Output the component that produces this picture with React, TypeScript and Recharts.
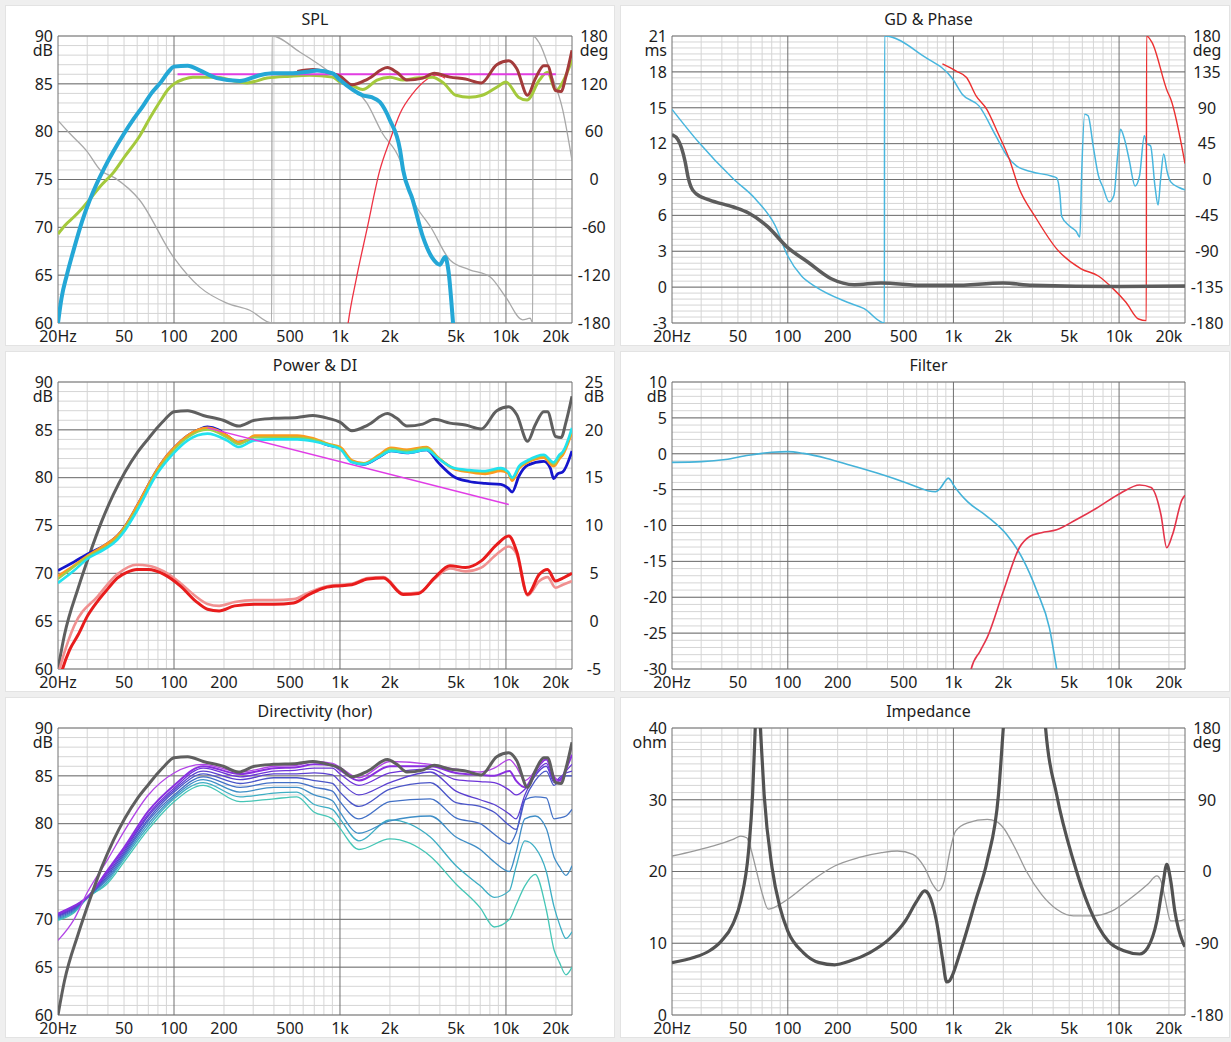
import React from 'react';
import { LineChart, Line, XAxis, YAxis, CartesianGrid } from 'recharts';

type Pt = [number, number];

const FONT = '"Noto Sans", "DejaVu Sans", sans-serif';
const TEXT = '#1d1d1d';

// ---------- frequency axis ----------
const freqTicks = [20, 50, 100, 200, 500, 1000, 2000, 5000, 10000, 20000];
const freqTickLabels = ['20Hz', '50', '100', '200', '500', '1k', '2k', '5k', '10k', '20k'];
const freqMajorLines = [20, 100, 1000, 10000, 25000];
const freqMinorLines = [30, 40, 50, 60, 70, 80, 90, 200, 300, 400, 500, 600, 700, 800, 900,
  2000, 3000, 4000, 5000, 6000, 7000, 8000, 9000, 20000];

// ---------- SPL ----------
const splWoofer: Pt[] = [[20, 60], [21, 62.6], [22.6, 65.0], [25, 67.8], [27.9, 70.6], [31, 72.8], [34.3, 74.6],
  [38.3, 76.3], [43, 77.9], [49.2, 79.6], [57, 81.3], [65.1, 82.7], [73, 84], [82.7, 85.1], [92, 86.2], [100, 86.8],
  [121, 86.9], [143, 86.4], [181, 85.6], [249, 85.3], [329, 85.9], [392, 86.1], [500, 86.1], [657, 86.3],
  [727, 86.4], [903, 86.1], [1000, 85.4], [1190, 84.4], [1370, 83.8], [1550, 83.6], [1740, 83.1], [2000, 81.2],
  [2300, 78.1], [2400, 76], [2740, 72.9], [3160, 69], [3600, 66.8], [3990, 66.1], [4300, 66.9], [4500, 65.5],
  [4800, 60], [5200, 52]];
const splLowpassRef: Pt[] = [[20, 69.3], [22, 70.2], [25, 71.1], [28, 72], [32, 73.2], [36, 74.3], [43.5, 75.8],
  [50, 77.3], [62.4, 79.6], [72, 81.5], [82.7, 83.2], [92, 84.4], [100, 85.0], [115, 85.5], [130, 85.7], [181, 85.7],
  [230, 85.3], [275, 85.1], [363, 85.6], [500, 85.8], [657, 85.9], [903, 85.7], [1000, 85.2], [1190, 84.8],
  [1370, 84.4], [1670, 85.4], [2000, 85.7], [2400, 85.4], [2900, 85.6], [3600, 85.7], [4200, 85.1], [5000, 83.8],
  [6000, 83.6], [7200, 83.8], [8900, 84.7], [10000, 85.2], [11900, 83.6], [13400, 83.3], [15900, 85.4],
  [17800, 86.2], [20000, 84.3], [22000, 85.2], [25000, 87.5]];
const onAxis: Pt[] = [[20, 60], [21.9, 63.6], [26.5, 68.5], [31, 72], [36.6, 75.4], [43, 78.2], [50.7, 80.6],
  [60, 82.6], [70.2, 84.1], [80, 85.3], [87.3, 86], [100, 86.9], [121, 87.0], [150, 86.5], [198, 86.0], [245, 85.4],
  [305, 86.0], [399, 86.2], [553, 86.3], [688, 86.5], [852, 86.2], [1000, 85.8], [1180, 84.9], [1470, 85.5],
  [1930, 86.7], [2200, 86.2], [2530, 85.4], [3150, 85.6], [3700, 86.1], [4600, 85.7], [5700, 85.5], [7100, 85.1],
  [8800, 87.0], [10400, 87.4], [11600, 86.6], [13500, 83.8], [15000, 85.5], [16900, 86.9], [17800, 86.9],
  [19900, 84.3], [21500, 84.2], [23000, 85.8], [25000, 88.5]];
const splTarget: Pt[] = [[105, 86], [20000, 86]];
const splTweeter: Pt[] = [[1050, 56], [1120, 60], [1260, 64.8], [1450, 69.7], [1740, 76], [2000, 79.1],
  [2300, 81.9], [2750, 84], [3300, 85.4], [3800, 85.9], [4300, 85.6]];
const splPhase: Pt[] = [[20, 74], [23.5, 58], [30, 35], [35.9, 12], [44, 2], [62, -25.7], [99, -97], [143, -135],
  [208, -155], [286, -164], [388, -180], [389.5, 180], [572, 160], [657, 152], [1000, 125], [1450, 96], [1800, 58],
  [2300, 24], [2600, -13], [3600, -63], [4600, -101], [6000, -113], [8000, -122], [10000, -148], [12600, -176],
  [14000, -174], [14500, -180], [14560, 180], [15900, 171], [18600, 134], [22000, 87], [25000, 24]];

// ---------- GD & Phase ----------
const groupDelay: Pt[] = [[20, 12.75], [21.8, 12.3], [24, 10.5], [25, 9.2], [26, 8.4], [28, 7.8], [33.5, 7.3],
  [47, 6.7], [58, 6.2], [75, 5.1], [100, 3.3], [132, 2.1], [183, 0.7], [252, 0.2], [365, 0.35], [667, 0.15],
  [1000, 0.15], [2000, 0.35], [3000, 0.15], [10000, 0.05], [25000, 0.1]];
const wooferPhase: Pt[] = [[20, 88], [28.9, 47], [47, 0.6], [63.8, -24.5], [84, -58], [100, -96], [121, -121],
  [146, -134], [229, -154], [289, -162], [383, -180], [384, 180], [667, 154], [990, 126], [1130, 107], [1430, 92],
  [1800, 55], [2100, 30], [2400, 17], [3000, 9.4], [3900, 4.4], [4200, 2], [4400, -20], [4500, -46], [5000, -58],
  [5500, -65], [5800, -72], [5950, 10], [6200, 82], [6500, 80], [7000, 40], [7500, 5], [8000, -10], [8700, -28],
  [9300, -20], [9800, 30], [10200, 63], [10800, 50], [11500, 25], [12500, -8], [13300, 5], [14200, 55], [14700, 45],
  [15500, 42], [16500, -10], [17200, -32], [17800, 0], [18600, 32], [19500, 10], [20500, -3], [23000, -10],
  [25000, -13]];
const tweeterPhase: Pt[] = [[858, 145], [1040, 136], [1200, 128], [1370, 105], [1590, 88], [1840, 60], [2170, 26],
  [2500, -12], [3100, -46], [4200, -87], [5900, -112], [7500, -121], [9000, -135], [11000, -154], [13100, -175],
  [14600, -177], [14650, 180], [15800, 172], [19600, 110], [20500, 101], [25000, 20]];

// ---------- Power & DI ----------
const listenBlue: Pt[] = [[20, 70.3], [25, 71.2], [30, 72.0], [38, 72.9], [45.5, 73.9], [50.7, 74.9], [59.7, 77.0],
  [68, 78.8], [78.3, 80.7], [88, 82.0], [100, 83.1], [121, 84.4], [140, 85.0], [159, 85.3], [185, 85.0], [208, 84.4],
  [245, 83.7], [275, 83.9], [305, 84.3], [400, 84.3], [553, 84.3], [688, 84.0], [852, 83.4], [1000, 83.1],
  [1180, 81.7], [1390, 81.4], [1730, 82.2], [2030, 82.8], [2530, 82.6], [3330, 82.9], [3900, 81.6], [4860, 80.1],
  [6000, 79.6], [7500, 79.4], [9300, 79.3], [10300, 78.9], [10900, 78.5], [12000, 80.2], [13500, 81.3],
  [16900, 81.7], [18500, 81.0], [19400, 79.9], [20500, 80.4], [22000, 80.6], [25000, 82.8]];
const reflOrange: Pt[] = [[20, 69.7], [25, 70.8], [30, 71.8], [38, 72.9], [45.5, 73.9], [50.7, 74.9], [59.7, 77.0],
  [68, 78.8], [78.3, 80.7], [88, 82.0], [100, 83.1], [121, 84.4], [140, 85.0], [159, 85.2], [185, 84.9], [208, 84.4],
  [245, 83.7], [275, 83.9], [305, 84.4], [400, 84.4], [553, 84.4], [688, 84.1], [852, 83.5], [1000, 83.2],
  [1180, 81.8], [1390, 81.5], [1730, 82.4], [2030, 83.1], [2530, 82.9], [3330, 83.2], [3900, 82.1], [4860, 80.9],
  [6000, 80.6], [7500, 80.4], [9300, 80.7], [10300, 80.5], [10900, 79.7], [12000, 81.0], [13500, 81.6],
  [16900, 82.1], [19400, 81.2], [21000, 82.0], [22000, 82.4], [25000, 84.8]];
const powerGreen: Pt[] = [[20, 69.4], [30, 71.7], [45.5, 73.7], [59.7, 76.7], [78.3, 80.5], [100, 82.9], [121, 84.2],
  [159, 85.0], [208, 84.2], [245, 83.5], [305, 84.2], [400, 84.2], [553, 84.2], [688, 84.0], [852, 83.5],
  [1000, 83.1], [1180, 81.7], [1390, 81.5], [1730, 82.3], [2030, 83.0], [2530, 82.8], [3330, 83.1], [3900, 82.1],
  [4860, 81.0], [6000, 80.7], [7500, 80.6], [9300, 80.9], [10300, 80.6], [10900, 79.9], [12000, 81.1],
  [13500, 81.7], [16900, 82.3], [19400, 81.4], [21000, 82.2], [22000, 82.6], [25000, 85.0]];
const powerCyan: Pt[] = [[20, 69.0], [25, 70.3], [30, 71.5], [38, 72.5], [45.5, 73.5], [50.7, 74.5], [59.7, 76.5],
  [78.3, 80.3], [100, 82.6], [121, 83.9], [159, 84.6], [208, 83.9], [245, 83.2], [305, 83.9], [400, 84.0],
  [553, 84.0], [688, 83.8], [852, 83.4], [1000, 83.0], [1180, 81.6], [1390, 81.4], [1730, 82.2], [2030, 82.8],
  [2530, 82.6], [3330, 82.9], [3900, 82.0], [4860, 81.0], [6000, 80.8], [7500, 80.7], [9300, 81.0], [10300, 80.6],
  [10900, 80.0], [12000, 81.2], [13500, 81.8], [16900, 82.4], [19400, 81.6], [21000, 82.4], [22000, 82.7],
  [25000, 85.2]];
const powerTarget: Pt[] = [[159, 85.2], [10400, 77.2]];
const diRed: Pt[] = [[20, -6.8], [21.3, -5], [23.5, -3.0], [26.5, -1.4], [30, 0.5], [34.7, 2.1], [40, 3.4],
  [45.5, 4.5], [52, 5.1], [59.7, 5.4], [70, 5.4], [87, 4.9], [109, 3.7], [135, 2.1], [159, 1.25], [187, 1.07],
  [232, 1.6], [305, 1.76], [400, 1.76], [525, 1.9], [653, 2.8], [811, 3.5], [1000, 3.7], [1180, 3.8], [1470, 4.4],
  [1830, 4.5], [2400, 2.8], [2980, 2.9], [3700, 4.5], [4600, 5.8], [5700, 5.6], [7100, 6.3], [8800, 8],
  [10400, 8.9], [11600, 7.3], [13500, 2.8], [15900, 4.9], [17800, 5.4], [19900, 4.2], [22000, 4.5], [25000, 5.0]];
const diPink: Pt[] = [[20, -5.6], [21.3, -3.9], [25, -0.5], [34.7, 2.6], [45.5, 4.9], [59.7, 5.9], [70, 5.8],
  [87, 5.2], [109, 4.0], [135, 2.6], [159, 1.8], [187, 1.6], [232, 2.0], [305, 2.2], [400, 2.2], [525, 2.3],
  [653, 3.0], [811, 3.6], [1000, 3.8], [1180, 3.9], [1470, 4.5], [1830, 4.6], [2400, 2.9], [2980, 3.0],
  [3700, 4.4], [4600, 5.5], [5700, 5.2], [7100, 5.6], [8800, 7.0], [10400, 7.8], [11600, 7.0], [13500, 2.7],
  [15900, 4.2], [17800, 4.6], [19900, 3.5], [22000, 3.8], [25000, 4.2]];

// ---------- Filter ----------
const wooferFilter: Pt[] = [[20, -1.2], [30, -1.1], [42, -0.8], [58, -0.2], [80, 0.2], [100, 0.3], [124, 0.05],
  [172, -0.65], [239, -1.6], [369, -2.9], [512, -4], [650, -4.9], [710, -5.2], [780, -5.3], [833, -4.8],
  [900, -3.7], [930, -3.4], [970, -3.8], [1000, -4.35], [1100, -5.6], [1220, -6.7], [1600, -8.75], [2100, -11.3],
  [2600, -14.5], [3200, -19.2], [3800, -24.3], [4200, -30], [4500, -34]];
const tweeterFilter: Pt[] = [[1200, -34], [1280, -30], [1450, -27.5], [1600, -25.6], [2000, -19.2], [2500, -13.1],
  [2900, -11.5], [3400, -11], [4200, -10.6], [5500, -9.2], [7300, -7.6], [10200, -5.5], [13300, -4.35],
  [15600, -4.7], [17900, -8.5], [19400, -13.1], [21000, -11.3], [24000, -6.4], [25000, -5.8]];

// ---------- Directivity (horizontal) ----------
const dirFreqs = [20, 25, 30, 40, 50, 70, 100, 150, 250, 400, 550, 700, 900, 1000, 1300, 2000, 3500, 5000, 7000,
  8500, 10500, 11500, 13000, 15000, 17500, 19500, 21000, 23000, 25000];
const dirA1 = [67.8, 70.0, 72.8, 76.3, 79.2, 83.0, 85.3, 86.2, 85.4, 86.0, 86.1, 86.5, 86.3, 85.9, 84.8, 86.5, 86.2,
  85.7, 85.4, 85.8, 86.7, 86.0, 84.5, 85.5, 86.9, 85.0, 84.3, 85.5, 88.3];
const dirA2 = [70.6, 71.4, 72.3, 75.2, 77.5, 81.3, 84.0, 86.0, 85.2, 85.8, 85.9, 86.2, 86.1, 85.6, 84.5, 86.0, 86.0,
  85.3, 85.1, 85.0, 85.5, 84.5, 83.8, 85.5, 86.7, 84.8, 84.5, 85.7, 87.2];
const dirA3 = [70.5, 71.3, 72.3, 75.0, 77.3, 81.0, 83.7, 85.8, 84.9, 85.5, 85.6, 85.8, 85.8, 85.2, 84.0, 85.3, 85.7,
  84.6, 84.4, 84.3, 83.5, 83.0, 83.6, 85.2, 86.3, 84.5, 84.6, 85.5, 86.2];
const dirA4 = [70.4, 71.2, 72.3, 74.8, 77.1, 80.8, 83.5, 85.5, 84.6, 85.2, 85.2, 85.3, 85.1, 84.4, 83.0, 84.3, 85.4,
  83.4, 82.5, 82.0, 81.0, 80.5, 83.0, 85.0, 86.0, 84.3, 84.8, 85.3, 85.5];
const dirA5 = [70.3, 71.1, 72.3, 74.6, 76.9, 80.5, 83.3, 85.2, 84.2, 84.8, 84.8, 84.5, 84.2, 83.3, 81.8, 83.6, 84.3,
  82.2, 81.8, 81.2, 79.8, 79.4, 82.5, 84.5, 85.5, 84.0, 84.5, 85.0, 85.0];
const dirA6 = [70.2, 71.0, 72.3, 74.4, 76.7, 80.3, 83.0, 84.9, 83.8, 84.3, 84.3, 83.8, 83.4, 82.3, 80.5, 82.3, 82.6,
  80.6, 80.0, 78.9, 77.9, 79.0, 82.5, 82.8, 82.7, 80.5, 80.6, 80.8, 81.5];
const dirA7 = [70.1, 70.9, 72.3, 74.2, 76.5, 80.0, 82.8, 84.6, 83.3, 83.8, 83.8, 83.0, 82.4, 81.2, 79.0, 80.3, 80.8,
  78.6, 77.3, 76.0, 75.0, 77.0, 80.5, 80.8, 79.5, 76.5, 75.5, 74.6, 75.6];
const dirA8 = [70.0, 70.8, 72.2, 74.0, 76.3, 79.7, 82.6, 84.3, 82.8, 83.2, 83.3, 82.0, 81.5, 80.5, 78.2, 80.4, 78.6,
  75.6, 73.5, 72.3, 73.0, 75.5, 78.2, 77.5, 75.0, 71.3, 69.5, 68.0, 68.7];
const dirA9 = [69.9, 70.7, 72.2, 73.8, 76.0, 79.4, 82.3, 84.0, 82.3, 82.6, 82.8, 81.2, 80.5, 79.5, 77.3, 78.4, 76.6,
  73.7, 71.2, 69.2, 70.0, 71.5, 73.5, 74.7, 71.0, 66.8, 65.5, 64.2, 65.0];
const dirColors = ['#b244e6', '#8a2fe0', '#6d34d8', '#5a3fd0', '#4a55c8', '#4270c6', '#3f8ec6', '#3daec4', '#45c6b6'];

// ---------- Impedance ----------
const impMagnitude: Pt[] = [[20, 7.3], [27, 8], [33.7, 8.95], [39.7, 10.3], [46.7, 12.7], [52, 15.9], [58, 22.9],
  [61.3, 30.7], [63.6, 40], [65.8, 48], [68.3, 40], [72, 30.7], [80.4, 20.5], [89.7, 15], [100, 11.7], [124, 8.7],
  [154.6, 7.3], [192, 7], [239, 7.55], [313, 8.7], [411, 10.6], [512, 13.1], [602, 15.9], [670, 17.3],
  [710, 16.8], [790, 13.1], [860, 7.8], [910, 4.6], [950, 4.8], [980, 5.4], [1090, 8.5], [1360, 15.9],
  [1600, 21.5], [1870, 30.7], [2000, 40], [2300, 60], [2800, 70], [3200, 60], [3600, 40], [4200, 30.7],
  [5300, 21.5], [6600, 15], [8600, 10.3], [10700, 8.95], [13300, 8.5], [14900, 9.4], [16900, 13.1], [18400, 18.2],
  [19400, 21.0], [20500, 18.7], [21700, 14.5], [24300, 10.1], [25000, 9.5]];
const impPhase: Pt[] = [[20, 19.4], [27, 25.7], [35.6, 32], [46.7, 40.3], [52, 44.4], [56.5, 42.3], [59.6, 29.8],
  [64.7, 0.6], [70.3, -28.6], [76.2, -47.3], [82.6, -45.2], [100, -34.8], [138.6, -11.9], [192, 6.9], [266, 17.3],
  [369, 23.6], [458, 25.7], [569, 21.5], [670, 4.8], [748, -16], [811, -24.4], [879, -11.9], [953, 25.7],
  [1030, 50.7], [1220, 61.1], [1600, 65.3], [1800, 63.2], [2000, 54.9], [2350, 29.8], [2750, 0.6], [3400, -28.6],
  [4200, -47.3], [5300, -55.6], [6900, -55.6], [9100, -49.4], [11900, -32.7], [14900, -16], [16900, -5.6],
  [17900, -11.9], [18900, -32.7], [20500, -62], [22800, -62], [25000, -60]];

// ---------- helpers ----------
type Series = { data: Pt[]; color: string; width: number; right?: boolean };
type PanelProps = {
  title: string; x: number; y: number; leftW: number; rightW: number;
  yDomain: [number, number]; yStep: number; yMinor: number; yUnit: string;
  rDomain?: [number, number]; rStep?: number; rUnit?: string;
  series: Series[];
};

const steps = (a: number, b: number, s: number) => {
  const n = Math.round((b - a) / s);
  return Array.from({ length: n + 1 }, (_, i) => +(a + i * s).toFixed(3));
};
const rows = (pts: Pt[]) => pts.map(([f, v]) => ({ f, v }));
const zipDir = (vals: number[]): Pt[] => dirFreqs.map((f, i) => [f, vals[i]]);

const W = 608;          // panel width
const PANEL_H = 339;    // white panel height
const TOP = 30;         // space above the plot
const PLOT_H = 287;
const XH = 30;          // room below the plot for frequency labels
const CHART_H = TOP + PLOT_H + XH;
const FS = 16;

const XTick = (props: any) => {
  const { x, y, payload } = props;
  const i = freqTicks.indexOf(payload.value);
  return (
    <text x={x} y={y + 19} textAnchor="middle" fontSize={FS} fontFamily={FONT} fill={TEXT}>
      {i >= 0 ? freqTickLabels[i] : ''}
    </text>
  );
};

const makeLeftTick = (max: number, unit: string) => (props: any) => {
  const { x, y, payload } = props;
  return (
    <g>
      <text x={x - 5} y={y} dy="0.36em" textAnchor="end" fontSize={FS} fontFamily={FONT} fill={TEXT}>
        {String(payload.value)}
      </text>
      {payload.value === max && (
        <text x={x - 5} y={y + 14} dy="0.36em" textAnchor="end" fontSize={FS} fontFamily={FONT} fill={TEXT}>
          {unit}
        </text>
      )}
    </g>
  );
};

const makeRightTick = (max: number, unit: string) => (props: any) => {
  const { x, y, payload } = props;
  return (
    <g>
      <text x={x + 22} y={y} dy="0.36em" textAnchor="middle" fontSize={FS} fontFamily={FONT} fill={TEXT}>
        {String(payload.value)}
      </text>
      {payload.value === max && (
        <text x={x + 22} y={y + 14} dy="0.36em" textAnchor="middle" fontSize={FS} fontFamily={FONT} fill={TEXT}>
          {unit}
        </text>
      )}
    </g>
  );
};

function Panel(p: PanelProps) {
  const yTicks = steps(p.yDomain[0], p.yDomain[1], p.yStep);
  const yMinor = steps(p.yDomain[0], p.yDomain[1], p.yMinor);
  const rTicks = p.rDomain ? steps(p.rDomain[0], p.rDomain[1], p.rStep as number) : [];
  return (
    <div style={{ position: 'absolute', left: p.x, top: p.y, width: W, height: PANEL_H }}>
      <div style={{ position: 'absolute', left: 0, top: 0, width: W, height: PANEL_H, background: '#ffffff',
        boxShadow: '0 0 0 1px #e3e3e3' }} />
      <div style={{ position: 'absolute', left: p.leftW, width: W - p.leftW - p.rightW, top: 3, textAlign: 'center',
        fontFamily: FONT, fontSize: FS, lineHeight: '20px', color: TEXT }}>{p.title}</div>
      <div style={{ position: 'absolute', left: 0, top: 0 }}>
        <LineChart width={W} height={CHART_H}
          margin={{ top: TOP, right: p.rDomain ? 0 : p.rightW, bottom: 0, left: 0 }}>
          <CartesianGrid verticalValues={freqMinorLines} horizontalValues={yMinor} stroke="#d5d5d5" fill="none" />
          <CartesianGrid verticalValues={freqMajorLines} horizontalValues={yTicks} stroke="#707070" fill="none" />
          <XAxis dataKey="f" type="number" scale="log" domain={[20, 25000]} allowDataOverflow ticks={freqTicks}
            interval={0} tick={XTick} tickLine={false} axisLine={false} tickSize={0} tickMargin={0} height={XH} />
          <YAxis type="number" domain={p.yDomain} allowDataOverflow ticks={yTicks} interval={0}
            tick={makeLeftTick(p.yDomain[1], p.yUnit)} tickLine={false} axisLine={false} tickSize={0} tickMargin={0}
            width={p.leftW} />
          {p.rDomain && (
            <YAxis yAxisId="r" orientation="right" type="number" domain={p.rDomain} allowDataOverflow ticks={rTicks}
              interval={0} tick={makeRightTick(p.rDomain[1], p.rUnit || '')} tickLine={false} axisLine={false}
              tickSize={0} tickMargin={0} width={p.rightW} />
          )}
          {p.series.map((s, i) => (
            <Line key={i} yAxisId={s.right ? 'r' : 0} data={rows(s.data)} dataKey="v" type="monotone"
              stroke={s.color} strokeWidth={s.width} dot={false} activeDot={false} isAnimationActive={false} />
          ))}
        </LineChart>
      </div>
    </div>
  );
}

const LEFT = { x: 6, leftW: 52, rightW: 42 };
const RIGHT = { x: 621, leftW: 51, rightW: 44 };

export default function App() {
  const dirSeries: Series[] = [dirA9, dirA8, dirA7, dirA6, dirA5, dirA4, dirA3, dirA2, dirA1].map((vals, i) => ({
    data: zipDir(vals), color: dirColors[8 - i], width: 8 - i === 1 ? 2 : 1.3,
  }));
  return (
    <div style={{ position: 'absolute', left: 0, top: 0, width: 1231, height: 1042, background: '#efefef',
      overflow: 'hidden' }}>
      <Panel title="SPL" {...LEFT} y={6} yDomain={[60, 90]} yStep={5} yMinor={1} yUnit="dB"
        rDomain={[-180, 180]} rStep={60} rUnit="deg"
        series={[
          { data: splPhase, color: '#a8a8a8', width: 1.3, right: true },
          { data: splTweeter, color: '#ee3344', width: 1.3 },
          { data: splLowpassRef, color: '#a4c93c', width: 3 },
          { data: splTarget, color: '#e23de2', width: 1.8 },
          { data: onAxis.filter(([f]) => f >= 500), color: '#a33b3b', width: 3 },
          { data: splWoofer, color: '#24a7d6', width: 4 },
        ]} />
      <Panel title="GD & Phase" {...RIGHT} y={6} yDomain={[-3, 21]} yStep={3} yMinor={0.5} yUnit="ms"
        rDomain={[-180, 180]} rStep={45} rUnit="deg"
        series={[
          { data: wooferPhase, color: '#48b6de', width: 1.5, right: true },
          { data: tweeterPhase, color: '#ec3030', width: 1.4, right: true },
          { data: groupDelay, color: '#5c5c5c', width: 3.5 },
        ]} />
      <Panel title="Power & DI" {...LEFT} y={352} yDomain={[60, 90]} yStep={5} yMinor={1} yUnit="dB"
        rDomain={[-5, 25]} rStep={5} rUnit="dB"
        series={[
          { data: onAxis, color: '#5f5f5f', width: 3 },
          { data: diPink, color: '#f09090', width: 2.6, right: true },
          { data: diRed, color: '#e81c1c', width: 3, right: true },
          { data: listenBlue, color: '#1515cc', width: 2.8 },
          { data: reflOrange, color: '#ff9a1e', width: 2.8 },
          { data: powerGreen, color: '#9ccf4a', width: 2 },
          { data: powerCyan, color: '#22e2ee', width: 2.6 },
          { data: powerTarget, color: '#e03de6', width: 1.4 },
        ]} />
      <Panel title="Filter" {...RIGHT} y={352} yDomain={[-30, 10]} yStep={5} yMinor={1} yUnit="dB"
        series={[
          { data: wooferFilter, color: '#44b2d8', width: 1.6 },
          { data: tweeterFilter, color: '#e4344a', width: 1.6 },
        ]} />
      <Panel title="Directivity (hor)" {...LEFT} y={698} yDomain={[60, 90]} yStep={5} yMinor={1} yUnit="dB"
        series={[...dirSeries, { data: onAxis, color: '#5f5f5f', width: 3 }]} />
      <Panel title="Impedance" {...RIGHT} y={698} yDomain={[0, 40]} yStep={10} yMinor={1} yUnit="ohm"
        rDomain={[-180, 180]} rStep={90} rUnit="deg"
        series={[
          { data: impPhase, color: '#999999', width: 1.3, right: true },
          { data: impMagnitude, color: '#525252', width: 3.2 },
        ]} />
    </div>
  );
}
